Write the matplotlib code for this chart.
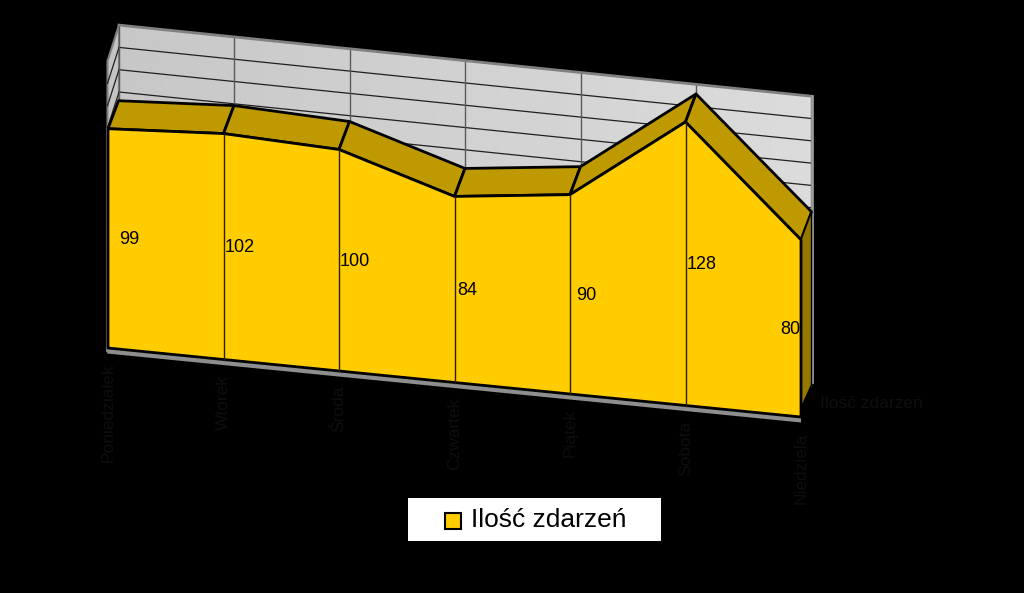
import matplotlib
matplotlib.use("Agg")
import numpy as np
import matplotlib.pyplot as plt
from matplotlib.patches import Polygon, Rectangle
from matplotlib.transforms import Affine2D

categories = ["Poniedziałek", "Wtorek", "Środa", "Czwartek", "Piątek", "Sobota", "Niedziela"]
values = [99, 102, 100, 84, 90, 128, 80]
series_name = "Ilość zdarzeń"
grid_values = [0, 10, 20, 30, 40, 50, 60, 70, 80, 90, 100, 110, 120, 130]
axis_max = 130
label_dx = [21, 16, 16, 13, 16, 16, -11]

plt.rcParams['font.family'] = ['Liberation Sans', 'DejaVu Sans']
fig = plt.figure(figsize=(10.24, 5.93), dpi=100, facecolor='black')
ax = fig.add_axes([0, 0, 1, 1])
ax.set_xlim(0, 1024)
ax.set_ylim(593, 0)
ax.axis('off')

# oblique projections: (category index, value) -> canvas
front = Affine2D.from_values(115.5, 11.5, 0, -2.215, 108, 348)
ridge = Affine2D.from_values(115.5, 11.5, 0, -2.215, 118.5, 320)
wall = Affine2D.from_values(115.4, 11.85, 0, -2.23, 119, 315)

xs = np.arange(len(values), dtype=float)
vals = np.array(values, dtype=float)
last = xs[-1]

def P(tr, x, y):
    return tr.transform(np.column_stack([np.atleast_1d(x), np.atleast_1d(y)]))

# back wall with soft gradient
wall_poly = np.vstack([P(wall, [0, last], [axis_max, axis_max]), P(wall, [last, 0], [0, 0])])
grad = np.linspace(0.78, 0.86, 256).reshape(1, -1)
im = ax.imshow(grad, cmap='gray', vmin=0, vmax=1, extent=[119, 811, 593, 0], aspect='auto', zorder=1)
clip = Polygon(wall_poly, closed=True, transform=ax.transData, fc='none', ec='none')
ax.add_patch(clip)
im.set_clip_path(clip)
ax.set_xlim(0, 1024)
ax.set_ylim(593, 0)

# left side wall
tl = P(wall, 0, axis_max)[0]
bl_wall = P(wall, 0, 0)[0]
side_offset = np.array([-11.5, 36.0])
ax.add_patch(Polygon([tl, tl + side_offset, bl_wall + side_offset, bl_wall], closed=True,
                     fc='#C4C4C4', ec='#808080', lw=1.5, zorder=1.5))

# gridlines
for g in grid_values[1:-1]:
    seg = P(wall, [0, last], [g, g])
    ax.plot(seg[:, 0], seg[:, 1], color='#202020', lw=0.9, zorder=2)
    s0 = seg[0]
    ax.plot([s0[0], s0[0] + side_offset[0]], [s0[1], s0[1] + side_offset[1]], color='#202020', lw=0.9, zorder=2)
for i in xs:
    seg = P(wall, [i, i], [0, axis_max])
    ax.plot(seg[:, 0], seg[:, 1], color='#5A5A5A', lw=1.0, zorder=2)
top = P(wall, [0, last], [axis_max, axis_max])
ax.plot(top[:, 0], top[:, 1], color='#808080', lw=2, zorder=2.2)
rgt = P(wall, [last, last], [axis_max, 2])
ax.plot(rgt[:, 0] + 1, rgt[:, 1], color='#9A9A9A', lw=2, zorder=2.2)

# area top (ridge) faces
f_top = P(front, xs, vals)
r_top = P(ridge, xs, vals)
for i in range(len(xs) - 1):
    ax.add_patch(Polygon([f_top[i], f_top[i + 1], r_top[i + 1], r_top[i]], closed=True,
                         fc='#BF9900', ec='black', lw=2, joinstyle='round', zorder=3))

# right end face
f_base_last = P(front, last, 0)[0]
r_last = r_top[-1]
ax.add_patch(Polygon([f_top[-1], r_last, [r_last[0], f_base_last[1] - 32], [f_top[-1][0], f_base_last[1] - 9]],
                     closed=True, fc='#957800', ec='black', lw=1.0, zorder=3))

# floor strip
base = P(front, [0, last], [0, 0])
ax.add_patch(Polygon([base[0], base[1], base[1] + [0, 5.5], base[0] + [-1, 5.5]], closed=True,
                     fc='#8E8E8E', ec='none', zorder=3))
# left grey edge
ax.plot([base[0][0] - 1, f_top[0][0] - 1], [base[0][1] + 3, f_top[0][1]], color='#808080', lw=1.5, zorder=3)

# front face
front_poly = np.vstack([f_top, P(front, xs[::-1], np.zeros_like(xs))])
ax.add_patch(Polygon(front_poly, closed=True, fc='#FFCC00', ec='black', lw=2, joinstyle='round', zorder=4))
for i in xs[1:-1]:
    k = int(i)
    seg = P(front, [i, i], [0, vals[k]])
    ax.plot(seg[:, 0], seg[:, 1], color='#2A2000', lw=1.0, zorder=4.5)

# data labels
for i, v, dx in zip(xs, vals, label_dx):
    p = P(front, i, v / 2)[0]
    ax.text(p[0] + dx, p[1] + 1, f"{int(v)}", ha='center', va='center', fontsize=13, color='black', zorder=5)

# category labels: dark text on the dark background
for i, c in zip(xs, categories):
    p = P(front, i, 0)[0]
    ax.text(p[0], p[1] + 15, c, rotation=90, ha='center', va='top', fontsize=12.5, color='#0e0e0e', zorder=5)

# depth axis label
ax.text(820, 403, series_name, ha='left', va='center', fontsize=12.5, color='#0e0e0e', zorder=5)

# legend
ax.add_patch(Rectangle((408, 498), 253, 43, fc='white', ec='none', zorder=6))
ax.add_patch(Rectangle((445, 513), 16, 16, fc='#FFCC00', ec='black', lw=1.5, zorder=7))
ax.text(471, 520, series_name, ha='left', va='center', fontsize=19, color='black', zorder=7)

fig.savefig("out.png", dpi=100, facecolor='black')
